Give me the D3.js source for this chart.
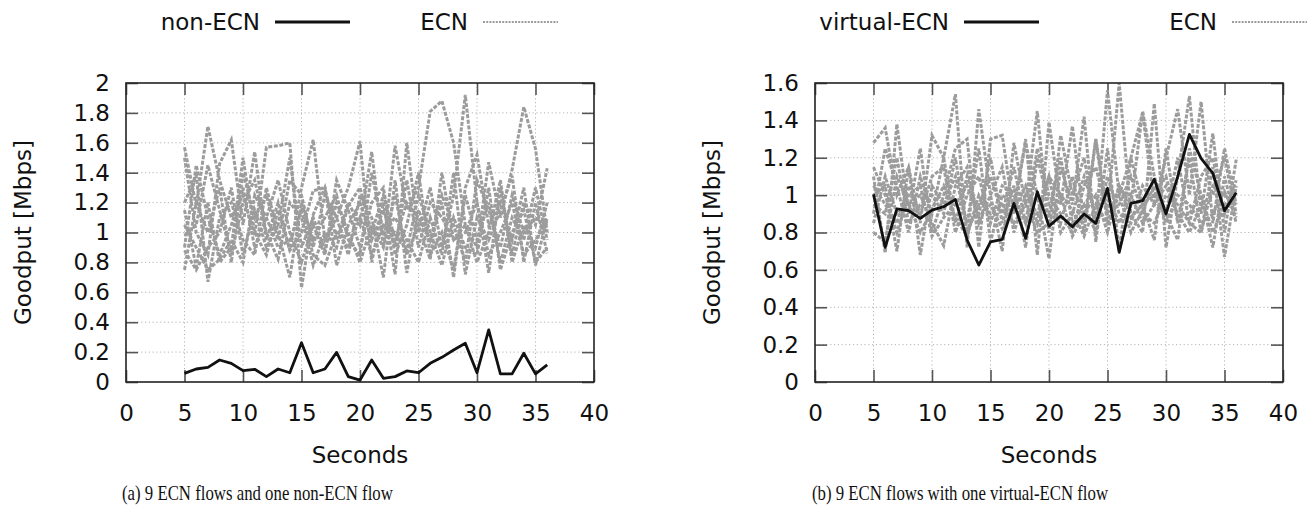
<!DOCTYPE html>
<html>
<head>
<meta charset="utf-8">
<script src="https://cdn.jsdelivr.net/npm/d3@7"></script>
<style>
  body { margin: 0; background: #fff; }
  svg text { font-family: "DejaVu Sans", sans-serif; fill: #111; }
  .caption { font-family: "Liberation Serif", "Times New Roman", serif; }
</style>
</head>
<body>
<svg id="chart" width="1307" height="506"></svg>
<script>
// seconds sampled in both runs
const seconds = d3.range(5, 37);

// (a) one non-ECN flow against 9 ECN flows
const nonEcn = [0.058, 0.087, 0.098, 0.147, 0.125, 0.076, 0.085, 0.036, 0.087, 0.062,
  0.263, 0.062, 0.087, 0.198, 0.036, 0.013, 0.147, 0.025, 0.036, 0.074,
  0.062, 0.125, 0.165, 0.214, 0.259, 0.062, 0.348, 0.054, 0.054, 0.192, 0.054, 0.114];

const ecnA = [
  [1.57, 1.18, 1.71, 1.35, 1.10, 1.25, 0.98, 1.57, 1.58, 1.60, 0.63, 1.12, 1.30, 0.95, 1.20, 1.05, 1.54, 0.90, 1.58, 1.15, 1.30, 1.81, 1.88, 1.60, 1.05, 0.90, 1.47, 1.10, 1.42, 1.84, 1.56, 1.00],
  [1.50, 1.00, 0.85, 1.46, 1.62, 1.05, 1.54, 0.95, 1.20, 0.88, 1.30, 1.62, 0.95, 1.10, 1.30, 1.61, 0.80, 1.20, 0.72, 1.60, 1.00, 1.30, 0.90, 1.25, 1.92, 1.20, 0.73, 1.30, 0.85, 1.20, 1.05, 1.43],
  [0.75, 1.20, 1.00, 1.30, 0.80, 1.40, 1.10, 1.25, 0.95, 1.35, 1.25, 0.90, 1.25, 1.10, 0.85, 1.25, 1.10, 0.70, 1.35, 0.73, 1.15, 0.95, 1.20, 0.70, 1.30, 1.52, 1.05, 1.20, 0.95, 1.30, 0.78, 1.10],
  [1.20, 1.38, 0.67, 1.10, 1.20, 0.95, 0.85, 1.30, 1.00, 0.70, 1.20, 0.95, 1.10, 1.25, 0.95, 0.85, 1.40, 1.00, 1.10, 0.95, 0.80, 1.10, 0.85, 1.40, 0.72, 1.10, 0.95, 1.15, 1.38, 0.80, 1.20, 0.86],
  [0.90, 1.45, 1.10, 0.85, 1.05, 1.30, 0.90, 1.10, 1.35, 1.00, 0.80, 1.05, 0.85, 1.35, 1.15, 0.90, 1.20, 1.30, 0.85, 1.05, 1.40, 0.85, 1.00, 0.75, 1.25, 0.95, 1.20, 0.80, 1.10, 0.95, 1.30, 0.95],
  [1.15, 0.77, 1.20, 0.80, 0.90, 1.50, 1.00, 0.85, 1.15, 0.88, 1.00, 1.28, 1.30, 0.78, 1.05, 1.20, 0.95, 1.15, 0.90, 1.35, 0.90, 1.20, 1.10, 0.95, 1.05, 0.80, 1.00, 1.35, 0.80, 1.05, 0.90, 1.20],
  [0.98, 1.05, 1.45, 1.15, 0.85, 1.20, 1.35, 1.00, 0.82, 1.20, 1.10, 0.78, 1.00, 0.90, 1.18, 1.30, 1.00, 1.25, 0.95, 1.20, 1.10, 0.95, 1.25, 1.05, 0.80, 1.35, 1.15, 0.90, 1.25, 1.00, 1.10, 1.05],
  [0.88, 0.75, 0.90, 1.00, 1.30, 0.85, 1.15, 0.90, 1.05, 1.50, 0.90, 1.10, 0.88, 1.20, 1.00, 0.80, 1.05, 0.90, 1.25, 0.85, 1.05, 0.82, 1.40, 0.95, 1.00, 1.20, 0.85, 1.00, 1.20, 0.85, 0.95, 1.08],
  [1.05, 0.90, 0.75, 0.82, 0.95, 0.80, 1.25, 1.10, 0.90, 0.95, 1.15, 0.85, 0.78, 1.00, 0.90, 1.10, 0.85, 1.05, 1.00, 0.88, 1.25, 1.00, 0.78, 1.10, 0.90, 0.85, 1.30, 0.75, 1.00, 1.15, 0.80, 0.90]
];

// (b) one virtual-ECN flow against 9 ECN flows
const virtualEcn = [1.004, 0.72, 0.926, 0.917, 0.876, 0.92, 0.938, 0.977, 0.76, 0.626,
  0.75, 0.763, 0.956, 0.769, 1.018, 0.834, 0.888, 0.831, 0.899, 0.849,
  1.036, 0.694, 0.956, 0.97, 1.085, 0.899, 1.099, 1.325, 1.197, 1.117, 0.917, 1.013];

const ecnB = [
  [1.28, 1.36, 1.00, 1.15, 0.85, 1.32, 1.20, 1.54, 0.72, 1.46, 1.00, 0.70, 1.28, 0.95, 1.45, 0.80, 1.32, 1.00, 1.20, 0.85, 1.56, 1.00, 1.20, 1.44, 0.95, 1.20, 1.46, 1.00, 1.50, 0.85, 1.25, 0.95],
  [1.10, 0.69, 1.38, 0.90, 1.25, 0.80, 1.00, 1.25, 1.30, 0.72, 1.30, 1.32, 0.90, 1.30, 0.68, 1.39, 0.95, 1.37, 0.85, 1.30, 0.90, 1.60, 0.90, 0.80, 1.49, 0.72, 1.10, 1.53, 0.90, 1.33, 0.80, 1.19],
  [1.00, 1.05, 0.70, 1.15, 0.68, 1.05, 0.95, 1.10, 0.85, 1.25, 0.75, 1.00, 0.95, 1.28, 1.00, 0.66, 1.15, 0.95, 1.42, 0.75, 1.25, 0.70, 1.20, 0.95, 0.76, 1.25, 0.85, 1.20, 0.80, 1.15, 0.67, 1.05],
  [0.90, 1.25, 1.05, 0.80, 1.10, 0.90, 1.20, 0.85, 1.10, 0.90, 1.20, 0.85, 1.05, 0.72, 1.20, 0.95, 0.85, 1.10, 0.80, 1.30, 0.85, 1.05, 0.95, 1.45, 1.10, 0.90, 0.76, 1.25, 1.00, 0.72, 1.10, 0.85],
  [0.80, 0.75, 1.10, 0.95, 1.00, 0.85, 0.73, 1.05, 1.15, 0.85, 1.00, 1.15, 0.80, 1.00, 0.90, 1.10, 0.80, 0.90, 1.10, 0.90, 1.00, 0.85, 1.00, 0.85, 0.95, 1.05, 0.90, 0.80, 0.95, 1.00, 1.20, 0.90],
  [1.05, 0.95, 0.85, 1.05, 0.90, 1.10, 1.15, 0.80, 1.00, 1.10, 0.85, 1.05, 1.00, 0.85, 1.25, 1.00, 0.90, 0.80, 1.05, 1.15, 0.90, 0.95, 1.10, 0.90, 0.85, 1.00, 0.95, 0.85, 1.10, 1.20, 0.90, 1.08],
  [0.95, 0.90, 1.20, 0.85, 0.95, 1.00, 0.90, 1.20, 0.80, 0.95, 1.10, 0.90, 1.15, 0.85, 1.00, 0.90, 1.20, 0.85, 0.95, 0.80, 1.10, 0.90, 0.85, 1.05, 0.95, 0.90, 1.20, 0.85, 0.80, 1.05, 1.00, 0.95],
  [1.15, 1.00, 0.80, 1.00, 1.05, 0.78, 0.88, 0.95, 1.05, 0.88, 0.95, 0.82, 0.92, 1.05, 0.85, 1.10, 1.00, 0.78, 0.90, 1.00, 0.80, 1.05, 0.88, 0.95, 1.00, 1.10, 0.88, 0.90, 1.00, 0.80, 0.95, 1.00],
  [0.85, 1.10, 0.90, 0.95, 0.80, 0.92, 1.05, 0.88, 0.78, 1.00, 0.90, 0.95, 0.85, 0.95, 0.80, 0.85, 1.00, 0.92, 0.78, 0.95, 0.85, 1.00, 0.80, 0.92, 1.05, 0.85, 1.00, 0.95, 0.85, 0.90, 1.02, 0.88]
];

const xTicks = [0, 5, 10, 15, 20, 25, 30, 35, 40];
const yTicksA = d3.range(0, 11).map(i => i * 0.2);
const yTicksB = d3.range(0, 9).map(i => i * 0.2);

const svg = d3.select('#chart');
const W = 468, H = 299;
const GRAY = '#9c9c9c';

function panel(opts) {
  const {left, yMax, yTicks, flow, ecn, flowLabel, caption, legend} = opts;
  const g = svg.append('g').attr('transform', `translate(${left},83)`);
  const x = d3.scaleLinear().domain([0, 40]).range([0, W]);
  const y = d3.scaleLinear().domain([0, yMax]).range([H, 0]);
  const fmt = d => String(+d.toFixed(1));

  // dotted grid
  const grid = g.append('g').attr('class', 'grid');
  grid.selectAll('.gx').data(xTicks.slice(1, -1)).join('line')
    .attr('x1', d => x(d)).attr('x2', d => x(d)).attr('y1', 0).attr('y2', H);
  grid.selectAll('.gy').data(yTicks.slice(1, -1)).join('line')
    .attr('class', 'gy')
    .attr('x1', 0).attr('x2', W).attr('y1', d => y(d)).attr('y2', d => y(d));
  grid.selectAll('line')
    .attr('stroke', '#b4b4b4').attr('stroke-width', 1).attr('stroke-dasharray', '1.2,2.6');

  // axes, ticks mirrored and pointing inward
  const styleAxis = sel => {
    sel.select('.domain').remove();
    sel.selectAll('.tick line').attr('stroke', '#555').attr('stroke-width', 1.6);
    sel.selectAll('text').style('font-size', '23px').attr('fill', '#111');
  };
  g.append('g').attr('transform', `translate(0,${H})`)
    .call(d3.axisBottom(x).tickValues(xTicks).tickSize(-12).tickPadding(23).tickFormat(d3.format('d')))
    .call(styleAxis);
  g.append('g')
    .call(d3.axisTop(x).tickValues(xTicks).tickSize(-12).tickFormat(''))
    .call(styleAxis);
  g.append('g')
    .call(d3.axisLeft(y).tickValues(yTicks).tickSize(-12).tickPadding(16).tickFormat(fmt))
    .call(styleAxis);
  g.append('g').attr('transform', `translate(${W},0)`)
    .call(d3.axisRight(y).tickValues(yTicks).tickSize(-12).tickFormat(''))
    .call(styleAxis);

  const line = d3.line().x((d, i) => x(seconds[i])).y(d => y(d));

  g.append('g').selectAll('path').data(ecn).join('path')
    .attr('d', line)
    .attr('fill', 'none')
    .attr('stroke', GRAY)
    .attr('stroke-width', 3)
    .attr('stroke-dasharray', '4,1.6');

  g.append('path').datum(flow)
    .attr('d', line)
    .attr('fill', 'none')
    .attr('stroke', '#111')
    .attr('stroke-width', 2.8)
    .attr('stroke-linejoin', 'round');

  // border
  g.append('rect').attr('width', W).attr('height', H)
    .attr('fill', 'none').attr('stroke', '#222').attr('stroke-width', 1.6);

  // axis titles
  g.append('text')
    .attr('transform', `translate(${-103},${H / 2}) rotate(-90)`)
    .attr('text-anchor', 'middle').attr('dy', '0.35em')
    .style('font-size', '23px')
    .text('Goodput [Mbps]');
  g.append('text')
    .attr('x', W / 2).attr('y', 380)
    .attr('text-anchor', 'middle')
    .style('font-size', '23px')
    .text('Seconds');

  // key above the plot
  const key = svg.append('g');
  key.append('text').attr('x', legend[0]).attr('y', 30)
    .attr('text-anchor', 'end').style('font-size', '23px').text(flowLabel);
  key.append('line').attr('x1', legend[0] + 15).attr('x2', legend[0] + 90)
    .attr('y1', 22).attr('y2', 22)
    .attr('stroke', '#111').attr('stroke-width', 2.8);
  key.append('text').attr('x', legend[1]).attr('y', 30)
    .attr('text-anchor', 'end').style('font-size', '23px').text('ECN');
  key.append('line').attr('x1', legend[1] + 15).attr('x2', legend[1] + 90)
    .attr('y1', 22).attr('y2', 22)
    .attr('stroke', GRAY).attr('stroke-width', 2).attr('stroke-dasharray', '2,1.2');

  // sub-figure caption, set in a narrowed serif
  svg.append('text').attr('class', 'caption')
    .attr('transform', `translate(${caption[1]},500) scale(0.84,1)`)
    .style('font-size', '20px')
    .text(caption[0]);
}

panel({
  left: 126, yMax: 2, yTicks: yTicksA, flow: nonEcn, ecn: ecnA,
  flowLabel: 'non-ECN', legend: [260, 468],
  caption: ['(a) 9 ECN flows and one non-ECN flow', 122]
});
panel({
  left: 815, yMax: 1.6, yTicks: yTicksB, flow: virtualEcn, ecn: ecnB,
  flowLabel: 'virtual-ECN', legend: [949, 1217],
  caption: ['(b) 9 ECN flows with one virtual-ECN flow', 812]
});
</script>
</body>
</html>
